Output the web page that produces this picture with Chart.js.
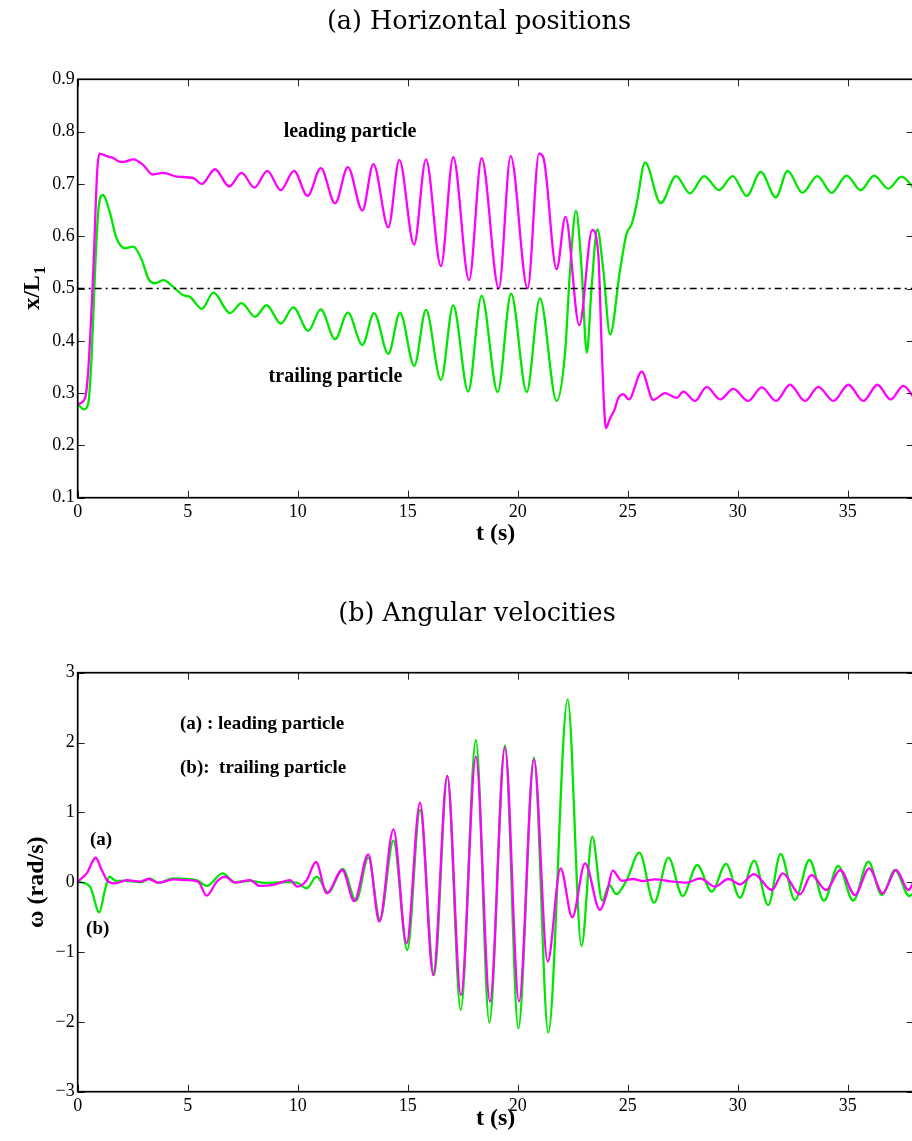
<!DOCTYPE html>
<html>
<head>
<meta charset="utf-8">
<script src="https://cdn.jsdelivr.net/npm/chart.js@4.4.1/dist/chart.umd.min.js"></script>
<style>
  html, body { margin: 0; padding: 0; background: #fff; overflow: hidden; }
  .wrap { position: absolute; left: 0; }
</style>
</head>
<body>
<div class="wrap" style="top:0"><canvas id="posChart" width="920" height="570" style="width:920px;height:570px"></canvas></div>
<div class="wrap" style="top:570px"><canvas id="omegaChart" width="920" height="571" style="width:920px;height:571px"></canvas></div>
<script>
// ---- data ----
const timeTicks = [0, 5, 10, 15, 20, 25, 30, 35];
const timeTickLabels = ['0', '5', '10', '15', '20', '25', '30', '35'];
const posTicks = [0.1, 0.2, 0.3, 0.4, 0.5, 0.6, 0.7, 0.8, 0.9];
const posTickLabels = ['0.1', '0.2', '0.3', '0.4', '0.5', '0.6', '0.7', '0.8', '0.9'];
const omegaTicks = [-3, -2, -1, 0, 1, 2, 3];
const omegaTickLabels = ['\u22123', '\u22122', '\u22121', '0', '1', '2', '3'];
const refLevel = 0.5;

// (a) horizontal positions, leading particle
const posLeadT = [0, 0.33, 0.48, 0.71, 0.89, 1.0, 1.32, 1.6, 1.92, 2.2, 2.53, 2.98, 3.41, 3.89, 4.5, 5.26, 5.64,
  6.24, 6.89, 7.45, 8.03, 8.62, 9.23, 9.83, 10.45, 11.05, 11.7, 12.28, 12.94, 13.44, 14.12, 14.62, 15.29,
  15.83, 16.51, 17.07, 17.79, 18.36, 19.14, 19.68, 20.45, 20.97, 21.17, 21.77, 22.17, 22.8, 23.39, 23.67,
  23.8, 23.92, 24.01, 24.2, 24.4, 24.57, 24.8, 25.05, 25.64, 26.16, 26.7, 27.23, 27.53, 28.06, 28.59, 29.2,
  29.8, 30.48, 31.09, 31.74, 32.38, 33.06, 33.66, 34.35, 35.03, 35.71, 36.35, 36.95, 37.53, 38];
const posLeadX = [0.279, 0.29, 0.344, 0.535, 0.727, 0.758, 0.753, 0.75, 0.742, 0.743, 0.747, 0.736, 0.718, 0.721, 0.714, 0.711, 0.700,
  0.728, 0.695, 0.721, 0.693, 0.725, 0.688, 0.725, 0.677, 0.730, 0.663, 0.732, 0.649, 0.738, 0.617, 0.746, 0.584,
  0.747, 0.543, 0.751, 0.516, 0.749, 0.500, 0.753, 0.500, 0.758, 0.750, 0.537, 0.637, 0.430, 0.612, 0.561,
  0.408, 0.28, 0.233, 0.252, 0.268, 0.290, 0.298, 0.288, 0.341, 0.287, 0.300, 0.291, 0.303, 0.285, 0.312, 0.288,
  0.308, 0.285, 0.311, 0.285, 0.316, 0.285, 0.312, 0.285, 0.316, 0.285, 0.316, 0.288, 0.314, 0.292];

// (a) horizontal positions, trailing particle
const posTrailT = [0, 0.29, 0.48, 0.64, 0.79, 0.94, 1.14, 1.47, 1.74, 2.15, 2.53, 2.91, 3.21, 3.51, 3.89, 4.35, 4.8,
  5.1, 5.64, 6.17, 6.92, 7.45, 8.06, 8.59, 9.23, 9.8, 10.48, 11.05, 11.7, 12.28, 12.94, 13.47, 14.12, 14.65,
  15.3, 15.83, 16.51, 17.07, 17.75, 18.36, 19.09, 19.7, 20.41, 21.01, 21.77, 22.15, 22.38, 22.65, 22.91, 23.14,
  23.36, 23.62, 23.89, 24.2, 24.65, 24.95, 25.18, 25.41, 25.79, 26.5, 27.2, 27.83, 28.48, 29.15, 29.77, 30.41,
  31.05, 31.73, 32.27, 32.94, 33.62, 34.27, 34.95, 35.59, 36.2, 36.85, 37.45, 38];
const posTrailX = [0.279, 0.269, 0.28, 0.376, 0.535, 0.650, 0.679, 0.644, 0.599, 0.577, 0.580, 0.555, 0.519, 0.510, 0.516, 0.503, 0.487,
  0.484, 0.461, 0.492, 0.453, 0.472, 0.446, 0.468, 0.433, 0.464, 0.419, 0.460, 0.403, 0.454, 0.392, 0.453, 0.375, 0.454,
  0.352, 0.459, 0.325, 0.468, 0.303, 0.486, 0.302, 0.490, 0.302, 0.481, 0.285, 0.376, 0.535, 0.649, 0.535, 0.377,
  0.503, 0.613, 0.535, 0.412, 0.535, 0.605, 0.623, 0.663, 0.741, 0.663, 0.715, 0.682, 0.715, 0.688, 0.715, 0.677,
  0.723, 0.674, 0.725, 0.683, 0.715, 0.683, 0.716, 0.688, 0.716, 0.691, 0.714, 0.692];

// (b) angular velocities, leading particle
const omegaLeadT = [0, 0.41, 0.82, 1.09, 1.39, 1.7, 2.23, 2.83, 3.21, 3.66, 4.35, 4.95, 5.48, 5.86, 6.32, 6.7, 7.15,
  7.83, 8.29, 8.89, 9.65, 9.98, 10.41, 10.83, 11.32, 12.03, 12.57, 13.21, 13.71, 14.35, 14.95, 15.56, 16.16,
  16.8, 17.42, 18.1, 18.74, 19.42, 20.06, 20.74, 21.36, 21.95, 22.48, 23.06, 23.74, 24.05, 24.32, 24.73, 25.25,
  25.7, 26.24, 27.07, 27.68, 28.29, 28.97, 29.57, 30.1, 30.74, 31.55, 32.05, 32.83, 33.35, 34.02, 34.66, 35.33,
  35.98, 36.59, 37.2, 37.76, 38];
const omegaLeadW = [0.007, 0.127, 0.35, 0.175, 0.007, -0.016, 0.03, 0.007, 0.046, -0.007, 0.04, 0.03, 0.007, -0.193, 0.007, 0.079, -0.007,
  0.03, -0.054, -0.04, 0.03, -0.064, 0.03, 0.289, -0.159, 0.175, -0.272, 0.399, -0.565, 0.757, -0.875, 1.139, -1.329,
  1.521, -1.615, 1.798, -1.711, 1.932, -1.711, 1.76, -1.138, 0.199, -0.503, 0.27, -0.398, -0.159, 0.165, 0.021, 0.046,
  0.016, 0.04, 0.007, -0.007, 0.056, -0.064, 0.046, -0.03, 0.117, -0.112, 0.127, -0.174, 0.103, -0.112, 0.175, -0.184,
  0.199, -0.159, 0.175, -0.112, 0.0];

// (b) angular velocities, trailing particle
const omegaTrailT = [0, 0.56, 0.98, 1.24, 1.44, 1.74, 2.23, 2.9, 3.29, 3.66, 4.35, 5.41, 5.86, 6.59, 7.15, 7.83, 8.5,
  9.5, 9.98, 10.41, 10.86, 11.39, 12.05, 12.65, 13.21, 13.74, 14.35, 14.98, 15.56, 16.2, 16.8, 17.41, 18.1,
  18.71, 19.42, 20.03, 20.74, 21.39, 22.27, 22.9, 23.39, 23.84, 24.16, 24.48, 24.95, 25.53, 26.2, 26.85, 27.5,
  28.16, 28.82, 29.47, 30.1, 30.75, 31.39, 31.95, 32.6, 33.26, 33.92, 34.57, 35.25, 35.94, 36.55, 37.15, 37.8, 38];
const omegaTrailW = [0.007, -0.064, -0.431, -0.112, 0.079, 0.017, 0.02, 0.0, 0.056, -0.01, 0.056, 0.03, -0.054, 0.127, 0.0, 0.02, -0.01,
  0.0, -0.01, -0.088, 0.079, -0.145, 0.189, -0.265, 0.351, -0.532, 0.595, -0.971, 1.034, -1.329, 1.521, -1.83, 2.036,
  -2.012, 1.96, -2.093, 1.788, -2.155, 2.619, -0.914, 0.652, -0.265, -0.04, -0.172, 0.03, 0.423, -0.293, 0.351, -0.198,
  0.246, -0.136, 0.261, -0.222, 0.308, -0.327, 0.404, -0.255, 0.318, -0.265, 0.232, -0.265, 0.294, -0.184, 0.175, -0.198, -0.16];

// ---- helpers ----
const MAGENTA = '#ff00ff';
const GREEN = '#00e600';
const SERIF = "'Liberation Serif', 'Times New Roman', serif";

function pairs(ts, vs) {
  return ts.map((t, i) => ({ x: t, y: vs[i] }));
}

function curve(label, ts, vs, color) {
  return {
    label: label,
    data: pairs(ts, vs),
    borderColor: color,
    borderWidth: 2.3,
    pointRadius: 0,
    fill: false,
    cubicInterpolationMode: 'monotone'
  };
}

// frame with inward ticks, titles and in-plot notes
const framePlugin = {
  id: 'frame',
  afterDatasetsDraw(chart, args, opts) {
    const ctx = chart.ctx;
    const a = chart.chartArea;
    const xs = chart.scales.x, ys = chart.scales.y;
    ctx.save();
    ctx.strokeStyle = '#222';
    ctx.lineWidth = 1;
    ctx.beginPath();
    xs.ticks.forEach(t => {
      const px = Math.round(xs.getPixelForValue(t.value)) + 0.5;
      ctx.moveTo(px, a.bottom); ctx.lineTo(px, a.bottom - 7);
      ctx.moveTo(px, a.top); ctx.lineTo(px, a.top + 7);
    });
    ys.ticks.forEach(t => {
      const py = Math.round(ys.getPixelForValue(t.value)) + 0.5;
      ctx.moveTo(a.left, py); ctx.lineTo(a.left + 7, py);
      ctx.moveTo(a.right, py); ctx.lineTo(a.right - 7, py);
    });
    ctx.stroke();
    ctx.strokeStyle = '#000';
    ctx.lineWidth = 1.7;
    ctx.strokeRect(a.left, a.top, a.right - a.left, a.bottom - a.top);

    ctx.fillStyle = '#000';
    ctx.textBaseline = 'alphabetic';
    // chart heading
    ctx.font = "25.5px 'DejaVu Serif', serif";
    ctx.textAlign = 'center';
    ctx.fillText(opts.heading, opts.headingX, opts.headingY);

    // notes placed in data coordinates
    (opts.notes || []).forEach(n => {
      ctx.font = 'bold ' + n.size + 'px ' + SERIF;
      ctx.textAlign = n.align;
      ctx.fillText(n.text, xs.getPixelForValue(n.x), ys.getPixelForValue(n.y));
    });

    // y label with subscript
    if (opts.yLabel) {
      const cy = (a.top + a.bottom) / 2;
      ctx.translate(opts.yLabel.x, cy);
      ctx.rotate(-Math.PI / 2);
      ctx.font = 'bold 24px ' + SERIF;
      const w1 = ctx.measureText(opts.yLabel.main).width;
      ctx.font = 'bold 16px ' + SERIF;
      const w2 = ctx.measureText(opts.yLabel.sub).width;
      const x0 = -(w1 + w2) / 2;
      ctx.textAlign = 'left';
      ctx.font = 'bold 24px ' + SERIF;
      ctx.fillText(opts.yLabel.main, x0, 0);
      ctx.font = 'bold 16px ' + SERIF;
      ctx.fillText(opts.yLabel.sub, x0 + w1 + 1, 6);
    }
    ctx.restore();
  }
};

function timeAxis(height) {
  return {
    type: 'linear',
    min: 0,
    max: 38,
    afterBuildTicks: s => { s.ticks = timeTicks.map(v => ({ value: v })); },
    afterFit: s => { s.height = height; },
    grid: { display: false, drawTicks: false },
    border: { display: false },
    ticks: {
      color: '#000',
      font: { family: SERIF, size: 18 },
      padding: 4,
      maxRotation: 0,
      autoSkip: false,
      callback: (v, i) => timeTickLabels[i]
    },
    title: {
      display: true,
      text: 't (s)',
      color: '#000',
      font: { family: SERIF, size: 24, weight: 'bold' },
      padding: { top: 0, bottom: 0 }
    }
  };
}

function valueAxis(min, max, tickVals, tickLabels, title) {
  return {
    type: 'linear',
    min: min,
    max: max,
    afterBuildTicks: s => { s.ticks = tickVals.map(v => ({ value: v })); },
    afterFit: s => { s.width = 77.7; },
    grid: { display: false, drawTicks: false },
    border: { display: false },
    ticks: {
      color: '#000',
      font: { family: SERIF, size: 18 },
      padding: 3,
      autoSkip: false,
      callback: (v, i) => tickLabels[i]
    },
    title: title
  };
}

// ---- chart (a) ----
new Chart(document.getElementById('posChart'), {
  type: 'line',
  data: {
    datasets: [
      {
        label: 'middle',
        data: [{ x: 0, y: refLevel }, { x: 38, y: refLevel }],
        borderColor: '#000',
        borderWidth: 1.6,
        borderDash: [7, 4, 2, 4],
        pointRadius: 0,
        fill: false
      },
      curve('leading particle', posLeadT, posLeadX, MAGENTA),
      curve('trailing particle', posTrailT, posTrailX, GREEN)
    ]
  },
  options: {
    responsive: false,
    animation: false,
    devicePixelRatio: 1,
    layout: { padding: { left: 0, right: 6.3, top: 79.3, bottom: 22.3 } },
    scales: {
      x: timeAxis(50),
      y: valueAxis(0.1, 0.9, posTicks, posTickLabels, { display: false })
    },
    plugins: {
      legend: { display: false },
      tooltip: { enabled: false },
      frame: {
        heading: '(a) Horizontal positions',
        headingX: 479,
        headingY: 29,
        yLabel: { main: 'x/L', sub: '1', x: 39 },
        notes: [
          { text: 'leading particle', x: 12.38, y: 0.789, size: 20, align: 'center' },
          { text: 'trailing particle', x: 11.72, y: 0.322, size: 20, align: 'center' }
        ]
      }
    }
  },
  plugins: [framePlugin]
});

// ---- chart (b) ----
new Chart(document.getElementById('omegaChart'), {
  type: 'line',
  data: {
    datasets: [
      curve('(a) leading particle', omegaLeadT, omegaLeadW, MAGENTA),
      curve('(b) trailing particle', omegaTrailT, omegaTrailW, GREEN)
    ]
  },
  options: {
    responsive: false,
    animation: false,
    devicePixelRatio: 1,
    layout: { padding: { left: 0, right: 6.3, top: 102.7, bottom: 8.3 } },
    scales: {
      x: timeAxis(41),
      y: valueAxis(-3, 3, omegaTicks, omegaTickLabels, {
        display: true,
        text: '\u03c9 (rad/s)',
        color: '#000',
        font: { family: SERIF, size: 24, weight: 'bold' },
        padding: { top: 22.6, bottom: 0 }
      })
    },
    plugins: {
      legend: { display: false },
      tooltip: { enabled: false },
      frame: {
        heading: '(b) Angular velocities',
        headingX: 477,
        headingY: 51,
        notes: [
          { text: '(a) : leading particle', x: 4.65, y: 2.19, size: 19, align: 'left' },
          { text: '(b):  trailing particle', x: 4.65, y: 1.56, size: 19, align: 'left' },
          { text: '(a)', x: 1.06, y: 0.533, size: 19, align: 'center' },
          { text: '(b)', x: 0.91, y: -0.742, size: 19, align: 'center' }
        ]
      }
    }
  },
  plugins: [framePlugin]
});
</script>
</body>
</html>
